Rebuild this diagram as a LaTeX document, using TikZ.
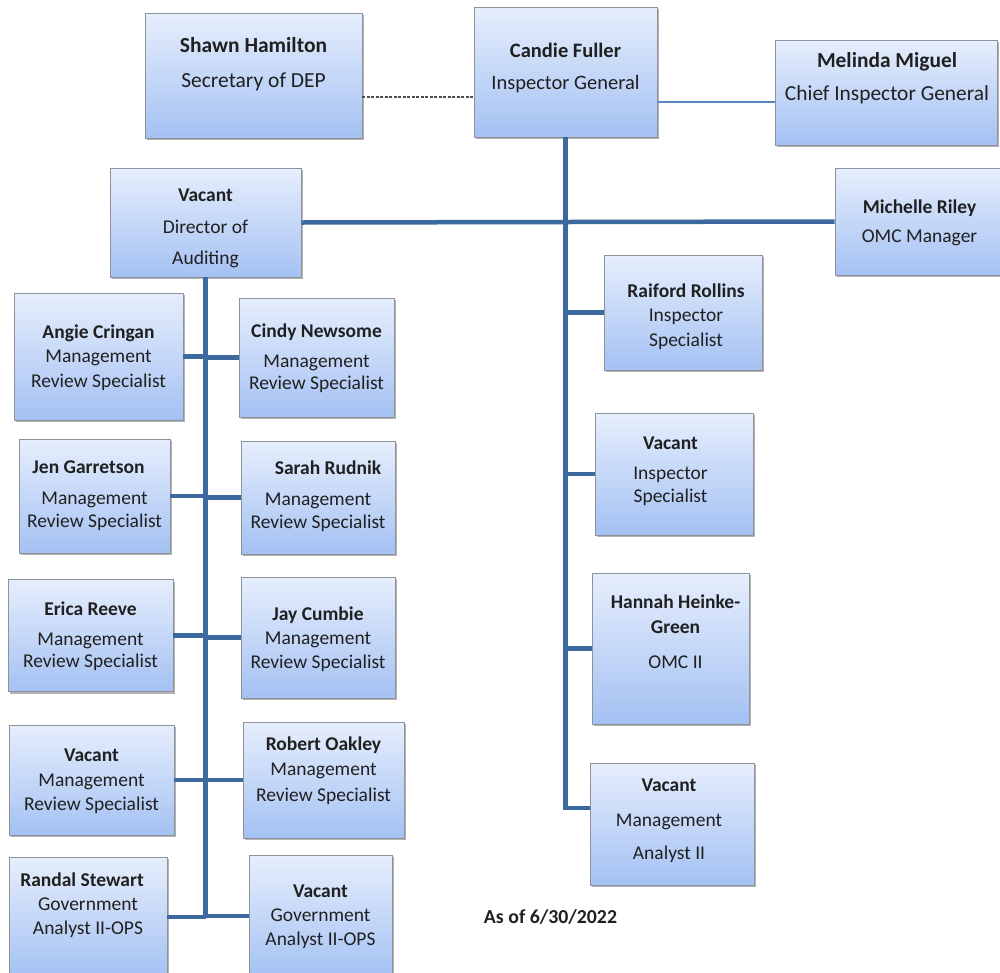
\documentclass[tikz,border=0pt]{standalone}
\usepackage{fontspec}
\setmainfont{Carlito}
\usetikzlibrary{positioning, shadows, calc}

\definecolor{boxtop}{HTML}{E6EEFC}
\definecolor{boxbot}{HTML}{A4C1F3}
\definecolor{boxedge}{HTML}{8E939B}
\definecolor{linkblue}{HTML}{3C6A9F}
\definecolor{thinblue}{HTML}{5B87BF}
\definecolor{txtdark}{HTML}{202020}

\begin{document}
\begin{tikzpicture}[x=1pt, y=-1pt]
\tikzset{
  orgbox/.style={
    draw=boxedge,
    line width=0.8pt,
    rectangle,
    inner sep=0pt,
    top color=boxtop,
    bottom color=boxbot,
    drop shadow={shadow xshift=2pt, shadow yshift=-2pt, fill=black, opacity=0.3}
  },
  orgtext/.style={
    align=center,
    text=txtdark,
    font=\fontsize{19.5}{24}\selectfont
  },
  bigtext/.style={
    orgtext,
    font=\fontsize{21.5}{35}\selectfont
  },
  link/.style={
    draw=linkblue,
    line width=4.5pt
  }
}
\useasboundingbox (0,0) rectangle (1000,972);

% Top row
\node[orgbox, minimum width=217, minimum height=125] (sec) at (253.5,75.5) {};
\node[bigtext] (sectxt) at ([yshift=11]sec.center) {\textbf{Shawn Hamilton}\\Secretary of DEP};
\node[orgbox, minimum width=183, minimum height=130] (ig) at (565.5,72) {};
\node[bigtext, font=\fontsize{20.5}{32}\selectfont] (igtxt) at ([yshift=4]ig.center) {\textbf{Candie Fuller}\\Inspector General};
\node[orgbox, minimum width=222, minimum height=105] (cig) at (886,92.5) {};
\node[bigtext, font=\fontsize{21.4}{33}\selectfont] (cigtxt) at ([xshift=1, yshift=14]cig.center) {\textbf{Melinda Miguel}\\Chief Inspector General};

% Director and OMC manager
\node[orgbox, minimum width=191, minimum height=109] (dir) at (205.5,222.5) {};
\node[orgtext, font=\fontsize{19.5}{31.5}\selectfont] (dirtxt) at ([yshift=-6]dir.center) {\textbf{Vacant}\\Director of\\Auditing};
\node[orgbox, minimum width=165, minimum height=107] (omcmgr) at (917.5,221.5) {};
\node[orgtext, font=\fontsize{19.5}{29}\selectfont] (omcmgrtxt) at ([xshift=2, yshift=-1]omcmgr.center) {\textbf{Michelle Riley}\\OMC Manager};

% Auditing staff, left column
\node[orgbox, minimum width=169, minimum height=127] (angie) at (98.5,356.5) {};
\node[orgtext, font=\fontsize{19.5}{24.5}\selectfont] (angietxt) at ([yshift=-1]angie.center) {\textbf{Angie Cringan}\\Management\\Review Specialist};
\node[orgbox, minimum width=151, minimum height=114] (jen) at (94.5,496) {};
\node[orgtext, font=\fontsize{19.5}{23}\selectfont] (jentxt) at (jen.center) {\hspace*{-12pt}\textbf{Jen Garretson}\\[8pt]Management\\Review Specialist};
\node[orgbox, minimum width=165, minimum height=112] (erica) at (90.5,635.5) {};
\node[orgtext, font=\fontsize{19.5}{22}\selectfont] (ericatxt) at ([yshift=-0.5]erica.center) {\textbf{Erica Reeve}\\[8pt]Management\\Review Specialist};
\node[orgbox, minimum width=165, minimum height=110] (vmrs) at (91.5,780) {};
\node[orgtext, font=\fontsize{19.5}{24.5}\selectfont] (vmrstxt) at ([yshift=-1.5]vmrs.center) {\textbf{Vacant}\\Management\\Review Specialist};
\node[orgbox, minimum width=158, minimum height=120] (randal) at (88,917) {};
\node[orgtext] (randaltxt) at ([yshift=12]randal.center) {\hspace*{-12pt}\textbf{Randal Stewart}\\Government\\Analyst II-OPS};

% Auditing staff, right column
\node[orgbox, minimum width=155, minimum height=119] (cindy) at (316.5,357.5) {};
\node[orgtext, font=\fontsize{19.5}{22}\selectfont] (cindytxt) at ([yshift=-0.5]cindy.center) {\textbf{Cindy Newsome}\\[8pt]Management\\Review Specialist};
\node[orgbox, minimum width=154, minimum height=113] (sarah) at (318,497.5) {};
\node[orgtext, font=\fontsize{19.5}{23}\selectfont] (sarahtxt) at ([yshift=1]sarah.center) {\hspace*{20pt}\textbf{Sarah Rudnik}\\[8pt]Management\\Review Specialist};
\node[orgbox, minimum width=154, minimum height=121] (jay) at (318,637.5) {};
\node[orgtext] (jaytxt) at ([yshift=-1.5]jay.center) {\textbf{Jay Cumbie}\\Management\\Review Specialist};
\node[orgbox, minimum width=161, minimum height=116] (robert) at (323.5,780) {};
\node[orgtext, font=\fontsize{19.5}{25.5}\selectfont] (roberttxt) at ([yshift=9.5]robert.center) {\textbf{Robert Oakley}\\Management\\Review Specialist};
\node[orgbox, minimum width=143, minimum height=122] (vga) at (320.5,916) {};
\node[orgtext] (vgatxt) at ([yshift=-1]vga.center) {\textbf{Vacant}\\Government\\Analyst II-OPS};

% Inspector General staff
\node[orgbox, minimum width=158, minimum height=115] (raiford) at (683,312.5) {};
\node[orgtext, font=\fontsize{19.5}{24.5}\selectfont] (raifordtxt) at ([xshift=3, yshift=-4]raiford.center) {\textbf{Raiford Rollins}\\Inspector\\Specialist};
\node[orgbox, minimum width=158, minimum height=122] (vis) at (674,474) {};
\node[orgtext, font=\fontsize{19.5}{23}\selectfont] (vistxt) at ([xshift=-3.5, yshift=2.5]vis.center) {\textbf{Vacant}\\[7pt]Inspector\\Specialist};
\node[orgbox, minimum width=157, minimum height=151] (hannah) at (670.5,648.5) {};
\node[orgtext, font=\fontsize{19.5}{25}\selectfont] (hannahtxt) at ([xshift=5, yshift=16.5]hannah.center) {\textbf{Hannah Heinke-}\\\textbf{Green}\\[10pt]OMC II};
\node[orgbox, minimum width=164, minimum height=122] (vma) at (672,824) {};
\node[orgtext, font=\fontsize{19.5}{33}\selectfont] (vmatxt) at ([xshift=-3, yshift=3]vma.center) {\textbf{Vacant}\\[2pt]Management\\Analyst II};

% Date note
\node[orgtext, font=\fontsize{19.8}{24}\bfseries] (asof) at (550.5,917) {As of 6/30/2022};

% Connectors
\draw[dashed, dash pattern=on 3pt off 1.5pt, line width=1.2pt, draw=txtdark!80] ([yshift=-21.5]sec.east) -- ([yshift=-21.5]sec.east -| ig.west);
\draw[thinblue, line width=1.5pt] ([yshift=-30]ig.east) -- ([yshift=-30]ig.east -| cig.west);
\draw[link] (ig.south) |- ([yshift=16]vma.west);
\foreach \n in {raiford, vis, hannah}
  \draw[link] (\n.west) -- (\n.west -| ig.south);
\draw[link] (dir.east) -- (omcmgr.west);
\draw[link] (dir.south) -- (dir.south |- randal.east);
\foreach \l/\r in {angie/cindy, jen/sarah, erica/jay, vmrs/robert, randal/vga} {
  \draw[link] (\l.east) -- (\l.east -| dir.south);
  \draw[link] (\r.west) -- (\r.west -| dir.south);
}

\end{tikzpicture}
\end{document}
